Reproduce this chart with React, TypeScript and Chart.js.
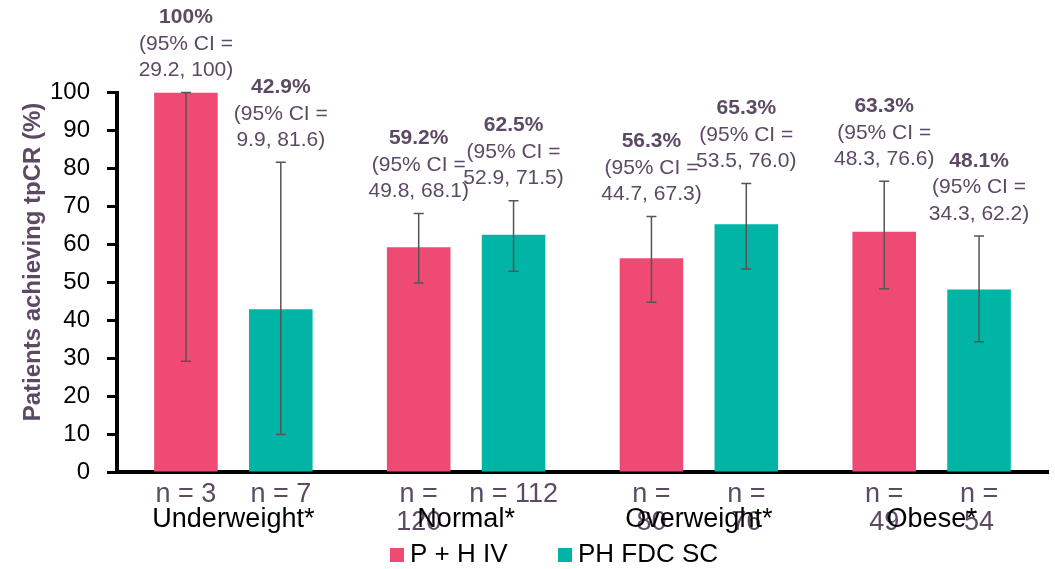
import React, { useEffect, useRef } from "react";
import { Chart, registerables } from "chart.js";

Chart.register(...registerables);

const categories = ["Underweight*", "Normal*", "Overweight*", "Obese*"];
const seriesNames = ["P + H IV", "PH FDC SC"];
const ivValues = [100, 59.2, 56.3, 63.3];
const ivLow = [29.2, 49.8, 44.7, 48.3];
const ivHigh = [100, 68.1, 67.3, 76.6];
const scValues = [42.9, 62.5, 65.3, 48.1];
const scLow = [9.9, 52.9, 53.5, 34.3];
const scHigh = [81.6, 71.5, 76.0, 62.2];
const ivN = ["n = 3", "n =\n120", "n =\n80", "n =\n49"];
const scN = ["n = 7", "n = 112", "n =\n76", "n =\n54"];
const yTicks = [0, 10, 20, 30, 40, 50, 60, 70, 80, 90, 100];
const yTitle = "Patients achieving tpCR (%)";

const PINK = "#EF4A73";
const TEAL = "#00B5A6";
const LABEL = "#5C4A64";
const FONT = "'Liberation Sans', Arial, sans-serif";

const fmt = (v: number) => (v === 100 ? "100" : v.toFixed(1));

const overlay = {
  id: "overlay",
  afterDatasetsDraw(chart: any) {
    const ctx = chart.ctx;
    const ys = chart.scales.y;
    const xs = chart.scales.x;
    const sets = [
      { vals: ivValues, lo: ivLow, hi: ivHigh, n: ivN },
      { vals: scValues, lo: scLow, hi: scHigh, n: scN },
    ];
    ctx.save();
    sets.forEach((s, di) => {
      const meta = chart.getDatasetMeta(di);
      meta.data.forEach((bar: any, i: number) => {
        const bx = bar.x;
        const yl = ys.getPixelForValue(s.lo[i]);
        const yh = ys.getPixelForValue(s.hi[i]);
        ctx.strokeStyle = "#555555";
        ctx.lineWidth = 1.5;
        ctx.beginPath();
        ctx.moveTo(bx, yl);
        ctx.lineTo(bx, yh);
        ctx.moveTo(bx - 5, yl);
        ctx.lineTo(bx + 5, yl);
        ctx.moveTo(bx - 5, yh);
        ctx.lineTo(bx + 5, yh);
        ctx.stroke();

        ctx.fillStyle = LABEL;
        ctx.textAlign = "center";
        ctx.textBaseline = "middle";
        const base = yh - 22;
        const lh = 26.5;
        ctx.font = `bold 21px ${FONT}`;
        ctx.fillText(fmt(s.vals[i]) + "%", bx, base - 2 * lh);
        ctx.font = `21px ${FONT}`;
        ctx.fillText("(95% CI =", bx, base - lh);
        ctx.fillText(`${fmt(s.lo[i])}, ${fmt(s.hi[i])})`, bx, base);

        ctx.font = `27px ${FONT}`;
        s.n[i].split("\n").forEach((line: string, k: number) => {
          ctx.fillText(line, bx, 495 + k * 28);
        });
      });
    });

    ctx.fillStyle = "#000";
    ctx.font = `27px ${FONT}`;
    ctx.textAlign = "center";
    ctx.textBaseline = "middle";
    categories.forEach((c, i) => {
      ctx.fillText(c, xs.getPixelForValue(i), 520);
    });

    // legend
    const colors = [PINK, TEAL];
    const legendX = [390, 558];
    ctx.textAlign = "left";
    ctx.font = `26px ${FONT}`;
    seriesNames.forEach((name, i) => {
      ctx.fillStyle = colors[i];
      ctx.fillRect(legendX[i], 548, 14, 14);
      ctx.fillStyle = "#000";
      ctx.fillText(name, legendX[i] + 20, 555);
    });

    // y title
    ctx.translate(33, 262);
    ctx.rotate(-Math.PI / 2);
    ctx.fillStyle = LABEL;
    ctx.font = `bold 24px ${FONT}`;
    ctx.textAlign = "center";
    ctx.fillText(yTitle, 0, 0);
    ctx.restore();
  },
};

export default function App() {
  const ref = useRef<HTMLCanvasElement>(null);
  useEffect(() => {
    if (!ref.current) return;
    const chart = new Chart(ref.current, {
      type: "bar",
      data: {
        labels: categories,
        datasets: [
          {
            label: seriesNames[0],
            data: ivValues,
            backgroundColor: PINK,
            categoryPercentage: 0.815,
            barPercentage: 0.67,
          },
          {
            label: seriesNames[1],
            data: scValues,
            backgroundColor: TEAL,
            categoryPercentage: 0.815,
            barPercentage: 0.67,
          },
        ],
      },
      options: {
        responsive: false,
        animation: false,
        layout: { padding: { left: 0, right: 7, top: 92.5, bottom: 0 } },
        plugins: { legend: { display: false }, tooltip: { enabled: false } },
        scales: {
          x: {
            grid: { display: false },
            border: { display: true, color: "#000", width: 4 },
            ticks: { display: false },
            afterFit: (s: any) => {
              s.height = 569 - 472;
            },
          },
          y: {
            min: 0,
            max: 100,
            afterBuildTicks: (s: any) => {
              s.ticks = yTicks.map((v) => ({ value: v }));
            },
            grid: {
              drawOnChartArea: false,
              drawTicks: true,
              tickLength: 10,
              tickWidth: 3,
              color: "#000",
            },
            border: { display: true, color: "#000", width: 4 },
            ticks: {
              color: "#000",
              padding: 17,
              font: { size: 24, family: FONT },
            },
            afterFit: (s: any) => {
              s.width = 117;
            },
          },
        },
      },
      plugins: [overlay],
    });
    return () => chart.destroy();
  }, []);
  return (
    <div style={{ position: "absolute", left: 0, top: 0, width: 1055, height: 569 }}>
      <canvas ref={ref} width={1055} height={569} style={{ display: "block" }} />
    </div>
  );
}
